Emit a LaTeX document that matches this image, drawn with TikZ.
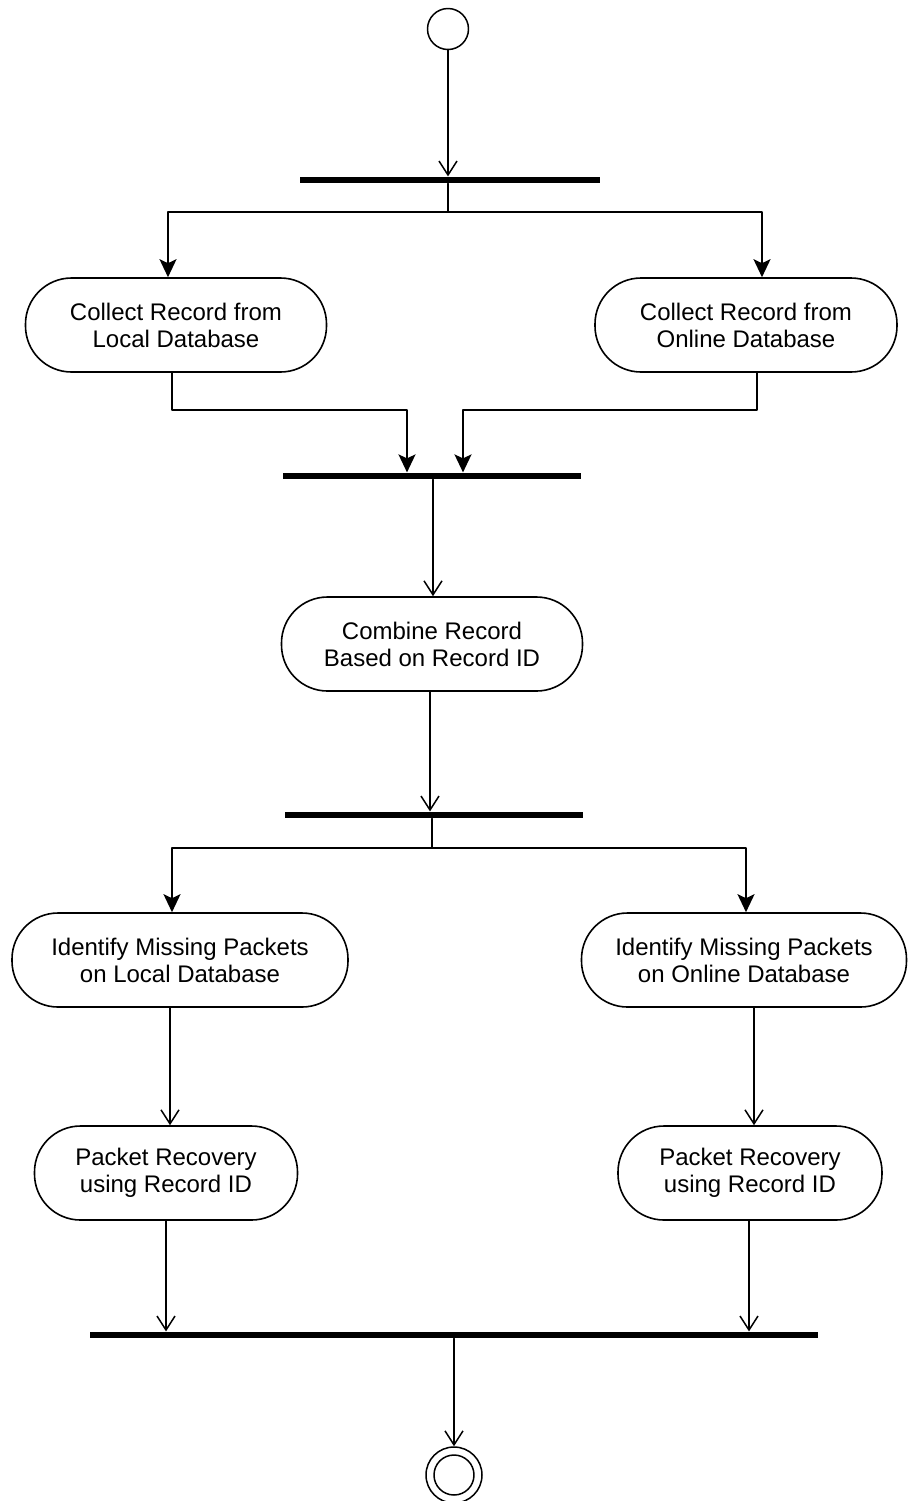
\documentclass[tikz,border=0pt]{standalone}
\usepackage{fontspec}
\setmainfont{Liberation Sans}
\usetikzlibrary{arrows.meta}

\begin{document}
\begin{tikzpicture}[line cap=round,line join=round,x=0.5pt,y=-0.5pt,
		actbox/.style={draw,line width=0.8pt,rounded corners=23pt,minimum height=47pt,align=center,inner sep=0pt,font=\fontsize{12}{13.5}\selectfont},
		barnode/.style={fill=black,inner sep=0pt,minimum height=3.2pt},
		flow/.style={line width=0.75pt,-{Straight Barb[length=7pt,width=9pt]}},
		fork/.style={line width=1pt,-{Stealth[length=9pt,width=8.5pt,inset=2pt]}}]
			\useasboundingbox (0,0) rectangle (908,1501);
			% activities and bars
			\node[draw,circle,line width=0.75pt,minimum size=20.5pt,inner sep=0pt] (start) at (448,29) {};
			\node[barnode,minimum width=150pt] (bar1) at (450,180) {};
			\node[actbox,minimum width=150.5pt] (local) at (176,325) {Collect Record from\\Local Database};
			\node[actbox,minimum width=151pt] (online) at (746,325) {Collect Record from\\Online Database};
			\node[barnode,minimum width=149pt] (bar2) at (432,476) {};
			\node[actbox,minimum width=150.5pt] (combine) at (432,644) {Combine Record\\Based on Record ID};
			\node[barnode,minimum width=149pt] (bar3) at (434,815) {};
			\node[actbox,minimum width=168pt] (misslocal) at (180,960) {Identify Missing Packets\\on Local Database};
			\node[actbox,minimum width=162.5pt] (missonline) at (744,960) {Identify Missing Packets\\on Online Database};
			\node[actbox,minimum width=131.5pt] (reclocal) at (166,1173) {Packet Recovery\\using Record ID};
			\node[actbox,minimum width=132pt] (reconline) at (750,1173) {Packet Recovery\\using Record ID};
			\node[barnode,minimum width=364pt] (bar4) at (454,1335) {};
			\node[draw,circle,line width=0.75pt,minimum size=28pt,inner sep=0pt] (finish) at (454,1475) {};
			\node[draw,circle,line width=0.75pt,minimum size=20pt,inner sep=0pt] (finishin) at (finish) {};
			% connectors
			\draw[flow] (start.south) -- (start.south |- bar1.north);
			\coordinate (split1) at (448,212);
			\draw[fork] (split1 |- bar1.south) -- (split1) -| (168,0 |- local.north);
			\draw[fork] (split1) -| (762,0 |- online.north);
			\coordinate (joinL) at (407,410);
			\coordinate (joinR) at (463,410);
			\draw[fork] (172,0 |- local.south) |- (joinL) -- (joinL |- bar2.north);
			\draw[fork] (757,0 |- online.south) |- (joinR) -- (joinR |- bar2.north);
			\draw[flow] (433,0 |- bar2.south) -- (433,0 |- combine.north);
			\draw[flow] (430,0 |- combine.south) -- (430,0 |- bar3.north);
			\coordinate (split2) at (432,848);
			\draw[fork] (split2 |- bar3.south) -- (split2) -| (172,0 |- misslocal.north);
			\draw[fork] (split2) -| (746,0 |- missonline.north);
			\draw[flow] (170,0 |- misslocal.south) -- (170,0 |- reclocal.north);
			\draw[flow] (754,0 |- missonline.south) -- (754,0 |- reconline.north);
			\draw[flow] (166,0 |- reclocal.south) -- (166,0 |- bar4.north);
			\draw[flow] (749,0 |- reconline.south) -- (749,0 |- bar4.north);
			\draw[flow] (finish.north |- bar4.south) -- (finish.north);
		\end{tikzpicture}
\end{document}
